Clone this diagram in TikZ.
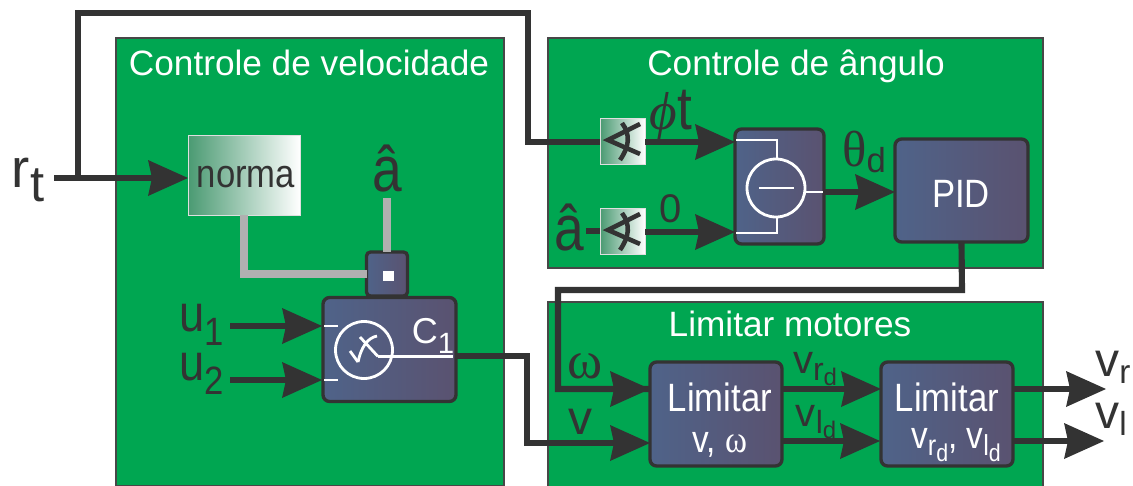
\documentclass[tikz,border=0pt]{standalone}
\usepackage{fontspec}
\usepackage{graphicx}
\setmainfont{Liberation Sans}
\newfontfamily\serifsym{Liberation Serif}
\usetikzlibrary{arrows.meta}
\definecolor{panelgreen}{HTML}{00A651}
\definecolor{ink}{HTML}{333333}
\definecolor{bleft}{HTML}{4F6389}
\definecolor{bright}{HTML}{5A5270}
\definecolor{wiregray}{HTML}{B0B0B0}
\definecolor{gradgreen}{HTML}{4A9A72}
\newcommand{\fs}[1]{\fontsize{#1}{#1}\selectfont}
\newcommand{\lowered}[2]{\raisebox{-#1pt}{#2}}
\newcommand{\tall}[1]{\scalebox{1}[1.14]{#1}}
\tikzset{
  x=0.75pt,y=-0.75pt,
  dims/.style 2 args={minimum width=#1*0.75pt,minimum height=#2*0.75pt,inner sep=0pt,outer sep=0pt},
  panel/.style={draw=ink!90,line width=1.6pt,fill=panelgreen},
  blockb/.style={draw=ink,line width=2.5pt,rounded corners=5pt,left color=bleft,right color=bright},
  gradbox/.style={draw=white!75!gray,line width=.4pt,left color=gradgreen,right color=white},
  wire/.style={draw=ink,line width=4.6pt},
  arrowwire/.style={wire,-{Stealth[length=30pt,width=27pt,inset=3pt,line width=0pt]}},
  graywire/.style={draw=wiregray,line width=5.8pt},
  symw/.style={draw=white,line width=2.1pt},
  paneltitle/.style={text=white,font=\fs{26.4}},
  lab/.style={text=ink,inner sep=0pt},
  wlab/.style={text=white,inner sep=0pt},
}
\newcommand{\anglesym}[2]{%
  \draw[ink,line width=3.4pt] (#1+17,#2-17) -- (#1-15,#2-1) -- (#1+17,#2+13);
  \draw[ink,line width=3.4pt] (#1-1,#2-18) .. controls (#1+8,#2-6) and (#1+6,#2+6) .. (#1-3,#2+19);
}
\begin{document}
\begin{tikzpicture}
\useasboundingbox (0,0) rectangle (1133,486);
% panels
\path[panel] (116,38) -- (504,38) -- (504,486) -- (116,486) -- cycle;
\node[panel,dims={495}{230}] (pangle) at (795.5,153) {};
\path[panel] (548,486) -- (548,302) -- (1043,302) -- (1043,486);
\node[paneltitle] (tvel) at (309,63) {Controle de velocidade};
\node[paneltitle] (tang) at (796,66) {Controle de ângulo};
\node[paneltitle] (tmot) at (790,324) {Limitar motores};
% blocks
\node[gradbox,dims={112}{80}] (norma) at (244,175) {};
\node[lab,font=\fs{26}] (normat) at (246,177) {\tall{norma}};
\node[blockb,rounded corners=3pt,dims={41}{44}] (small) at (387,274) {};
\node[blockb,dims={133}{104}] (c1) at (389.5,349.5) {};
\node[gradbox,dims={45}{46}] (sw1) at (622.5,141) {};
\node[gradbox,dims={45}{46}] (sw2) at (622.5,231) {};
\node[blockb,dims={89}{115}] (sub) at (779.5,186.5) {};
\node[blockb,dims={133}{103}] (pid) at (961.5,190.5) {};
\node[wlab,font=\fs{26}] (pidt) at (961,194) {\tall{PID}};
\node[blockb,dims={132}{104}] (lim1) at (716,414) {};
\node[wlab,font=\fs{26}] (lim1t) at (720,397) {\tall{Limitar}};
\node[wlab,font=\fs{25}] (lim1s) at (720,445) {\tall{v, {\serifsym ω}}};
\node[blockb,dims={132}{104}] (lim2) at (947,414) {};
\node[wlab,font=\fs{26}] (lim2t) at (947,397) {\tall{Limitar}};
\node[wlab,font=\fs{25}] (lim2s) at (956,445) {\tall{v\lowered{5}{\fs{19}r\lowered{4}{\fs{16}d}}, v\lowered{5}{\fs{19}l\lowered{4}{\fs{16}d}}}};
% free ends and ports
\coordinate (rtstart) at (54,178);
\coordinate (branch) at (78,178);
\coordinate (hatfoot) at (387,198);
\coordinate (u1s) at (230,326);
\coordinate (u2s) at (230,380);
\coordinate (u1e) at (322,326);
\coordinate (u2e) at (322,380);
\coordinate (adash) at (586,231);
\coordinate (sub1) at (735,142);
\coordinate (sub2) at (735,232);
\coordinate (omegaend) at (650,389);
\coordinate (vend) at (650,443);
\coordinate (vrs) at (782,389);
\coordinate (vre) at (881,389);
\coordinate (vls) at (782,441);
\coordinate (vle) at (880,441);
\coordinate (outrs) at (1013,389);
\coordinate (outre) at (1106,389);
\coordinate (outls) at (1013,441);
\coordinate (outle) at (1104,441);
% black wires
\draw[wire] (branch) -- (78,13) -- (528,13) -- (528,142) -- (sw1.west |- 0,142);
\draw[arrowwire] (rtstart) -- (norma.west |- rtstart);
\draw[arrowwire] (u1s) -- (u1e);
\draw[arrowwire] (u2s) -- (u2e);
\draw[wire] (adash) -- (sw2.west |- adash);
\draw[arrowwire] (sw1.east |- sub1) -- (sub1);
\draw[arrowwire] (sw2.east |- sub2) -- (sub2);
\draw[arrowwire] (sub.east |- 0,192) -- (pid.west |- 0,192);
\draw[wire] (pid.south |- 0,243) -- (962,290) -- (558,290) -- (558,389) -- (omegaend);
\draw[arrowwire] (558,389) -- (omegaend);
\draw[arrowwire] (c1.east |- 0,356) -- (527,356) -- (527,443) -- (vend);
\draw[arrowwire] (vrs) -- (vre);
\draw[arrowwire] (vls) -- (vle);
\draw[arrowwire] (outrs) -- (outre);
\draw[arrowwire] (outls) -- (outle);
% grey wires
\draw[graywire] (norma.south -| 244,215) -- (244,274) -- (small.west);
\draw[graywire] (hatfoot) -- (small.north);
% white details in blocks
\fill[white] (383,271) rectangle (394,281);
\draw[symw] (364,350) circle (28.5);
\draw[symw] (324,326) -- (338,326);
\draw[symw] (324,380) -- (338,380);
\draw[symw] (378,356.5) -- (453,356.5);
\draw[symw] (378,356.5) -- (360,337);
\draw[symw] (377,336) .. controls (367,338) and (361,348) .. (358,362);
\draw[symw] (350,351) -- (358,362);
\draw[symw] (776,188) circle (29);
\draw[symw] (759,188) -- (794,188);
\draw[symw] (736,140) -- (777,140) -- (777,159);
\draw[symw] (736,233) -- (777,233) -- (777,217);
\draw[symw] (805,192) -- (823,192);
\anglesym{623}{141}
\anglesym{623}{231}
% labels
\node[lab,font=\fs{41}] (rt) at (28,180) {r\lowered{11}{\fs{38}t}};
\node[lab,font=\fs{40}] (hat1) at (387,169) {\scalebox{1}[1.2]{â}};
\node[lab,font=\fs{34}] (u1) at (202,325) {\tall{u\lowered{9}{\fs{26}1}}};
\node[lab,font=\fs{34}] (u2) at (202,374) {\tall{u\lowered{9}{\fs{26}2}}};
\node[wlab,font=\fs{27}] (c1t) at (433,336) {C\lowered{7}{\fs{22}1}};
\node[lab,font=\fs{40}] (phi) at (671,116) {{\serifsym\itshape ϕ}\tall{t}};
\node[lab,font=\fs{40}] (hat2) at (569,228) {\scalebox{1}[1.2]{â}};
\node[lab,font=\fs{30}] (zero) at (671,209) {0};
\node[lab,font=\fs{38}] (theta) at (864,152) {{\serifsym θ}\lowered{5}{\fs{26}d}};
\node[lab,font=\fs{40}] (omega) at (585,366) {\serifsym ω};
\node[lab,font=\fs{36}] (v) at (580,422) {v};
\node[lab,font=\fs{30}] (vrd) at (815,369) {v\lowered{5}{\fs{24}r\lowered{4}{\fs{18}d}}};
\node[lab,font=\fs{30}] (vld) at (816,422) {v\lowered{5}{\fs{24}l\lowered{4}{\fs{18}d}}};
\node[lab,font=\fs{36}] (vr) at (1113,367) {v\lowered{5}{\fs{25}r}};
\node[lab,font=\fs{36}] (vl) at (1111,419) {v\lowered{5}{\fs{25}l}};
\end{tikzpicture}
\end{document}
